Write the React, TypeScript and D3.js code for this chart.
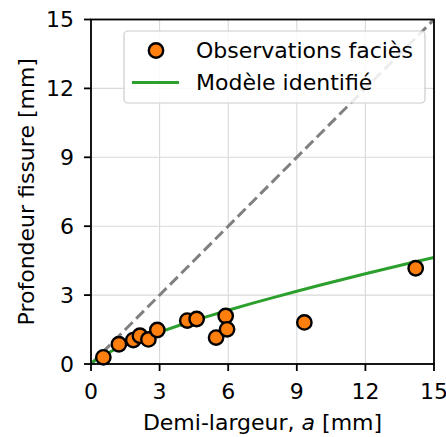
import React from "react";
import * as d3 from "d3";

const obsX = [0.54, 1.22, 1.85, 2.14, 2.51, 2.9, 4.21, 4.62, 5.47, 5.89, 5.95, 9.33, 14.2];
const obsY = [0.29, 0.86, 1.04, 1.23, 1.07, 1.48, 1.89, 1.96, 1.15, 2.09, 1.51, 1.81, 4.17];
const modelX = [0, 0.25, 0.5, 1, 1.5, 2, 3, 4, 5, 6, 7, 8, 9, 10, 11, 12, 13, 14, 15];
const modelY = [0, 0.22, 0.36, 0.61, 0.83, 1.03, 1.39, 1.73, 2.04, 2.34, 2.63, 2.9, 3.17, 3.43, 3.68, 3.93, 4.17, 4.41, 4.64];
const ticks = [0, 3, 6, 9, 12, 15];
const legendLabels = ["Observations faciès", "Modèle identifié"];

export default function App() {
  const W = 446, H = 437;
  const left = 91, right = 434, top = 19.5, bottom = 364;
  const x = d3.scaleLinear().domain([0, 15]).range([left, right]);
  const y = d3.scaleLinear().domain([0, 15]).range([bottom, top]);
  const line = d3.line<number>().x((d, i) => x(modelX[i])).y((d) => y(d));
  const font = "DejaVu Sans";
  const fs = 22;
  return (
    <svg width={W} height={H} style={{ position: "absolute", left: 0, top: 0 }} fontFamily={font}>
      <rect width={W} height={H} fill="#fff" />
      <defs>
        <clipPath id="plot"><rect x={left} y={top} width={right - left} height={bottom - top} /></clipPath>
      </defs>
      {ticks.map((t) => (
        <g key={"g" + t}>
          <line x1={x(t)} x2={x(t)} y1={top} y2={bottom} stroke="#d9d9d9" strokeWidth={1.1} />
          <line x1={left} x2={right} y1={y(t)} y2={y(t)} stroke="#d9d9d9" strokeWidth={1.1} />
        </g>
      ))}
      <g clipPath="url(#plot)">
        <line x1={x(0)} y1={y(0)} x2={x(15)} y2={y(15)} stroke="#808080" strokeWidth={3} strokeDasharray="11,5" />
        <path d={line(modelY) || ""} fill="none" stroke="#2ca02c" strokeWidth={3} />
      </g>
      {obsX.map((v, i) => (
        <circle key={i} cx={x(v)} cy={y(obsY[i])} r={7.2} fill="#ff7f0e" stroke="#000" strokeWidth={2.4} />
      ))}
      <rect x={left} y={top} width={right - left} height={bottom - top} fill="none" stroke="#000" strokeWidth={1.8} />
      {ticks.map((t) => (
        <g key={"t" + t}>
          <line x1={x(t)} x2={x(t)} y1={bottom} y2={bottom + 7} stroke="#000" strokeWidth={1.8} />
          <text x={x(t)} y={399} textAnchor="middle" fontSize={fs} fill="#000">{t}</text>
          <line x1={left - 7} x2={left} y1={y(t)} y2={y(t)} stroke="#000" strokeWidth={1.8} />
          <text x={74} y={y(t)} dy="0.36em" textAnchor="end" fontSize={fs} fill="#000">{t}</text>
        </g>
      ))}
      <text x={(left + right) / 2} y={430} textAnchor="middle" fontSize={fs} fill="#000">
        Demi-largeur, <tspan fontStyle="italic">a</tspan> [mm]
      </text>
      <text transform={`translate(34,${(top + bottom) / 2}) rotate(-90)`} textAnchor="middle" fontSize={fs} fill="#000">
        Profondeur fissure [mm]
      </text>
      <g>
        <rect x={124} y={31} width={301} height={72} rx={4} fill="#fff" fillOpacity={0.85} stroke="#cccccc" strokeWidth={1.2} />
        <circle cx={156} cy={50.5} r={7.2} fill="#ff7f0e" stroke="#000" strokeWidth={2.4} />
        <text x={196} y={57.5} fontSize={fs} fill="#000">{legendLabels[0]}</text>
        <line x1={132} x2={179} y1={82.5} y2={82.5} stroke="#2ca02c" strokeWidth={3} />
        <text x={196} y={89.5} fontSize={fs} fill="#000">{legendLabels[1]}</text>
      </g>
    </svg>
  );
}
